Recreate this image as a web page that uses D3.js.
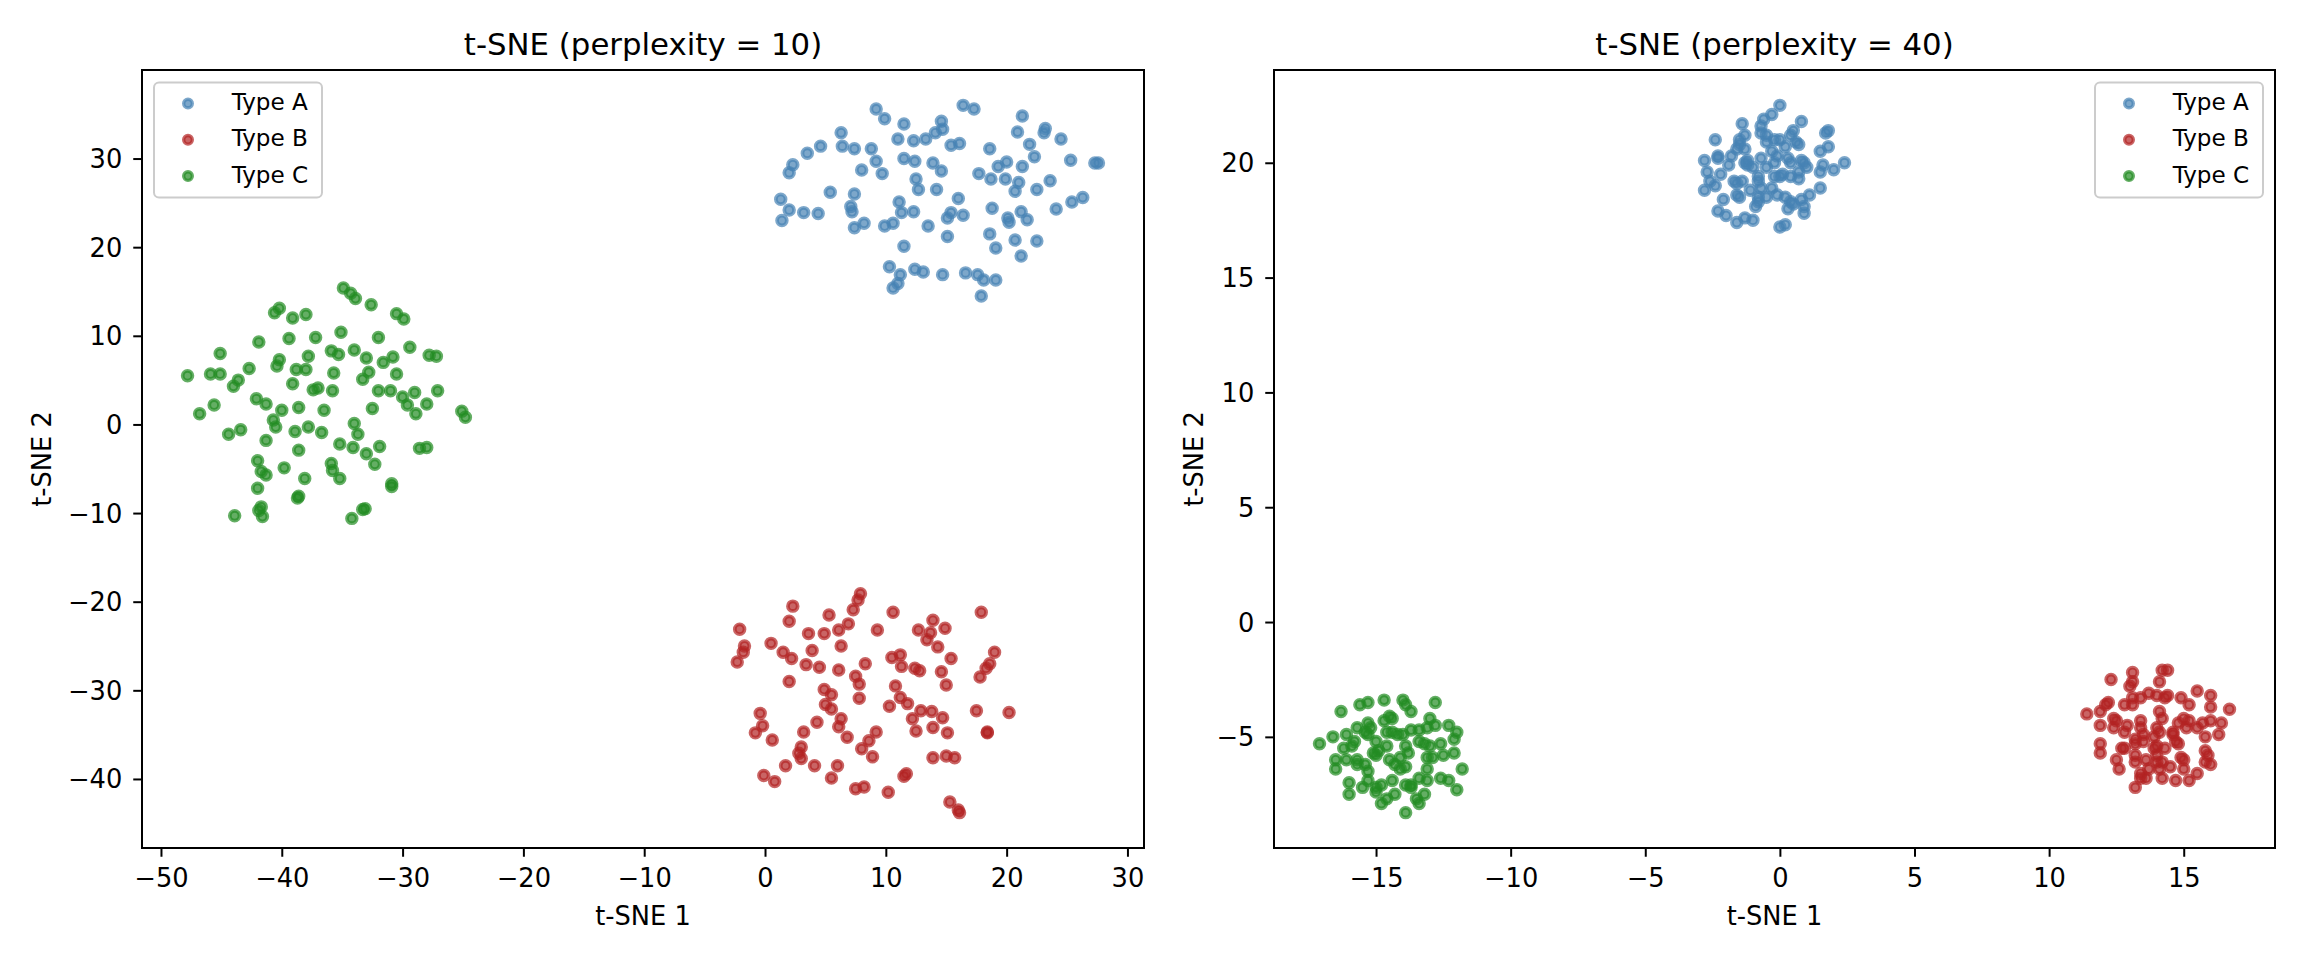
<!DOCTYPE html>
<html>
<head>
<meta charset="utf-8">
<script src="https://cdn.jsdelivr.net/npm/d3@7"></script>
<style>
  body { margin: 0; background: #fff; }
  text { font-family: "DejaVu Sans", sans-serif; fill: #000; }
</style>
</head>
<body>
<div id="chart"></div>
<script>
// ---- data ----
var seriesNames = ['Type A', 'Type B', 'Type C']
var seriesColors = ['#4682b4', '#b22222', '#228b22']

// perplexity = 10
var typeA10 = [[9.2,35.6],[9.9,34.5],[11.5,33.9],[16.4,36.0],[17.3,35.6],[21.3,34.8],[14.6,34.2],[14.1,32.9],[14.7,33.3],[6.3,32.9],
  [11.0,32.2],[12.3,32.0],[13.3,32.2],[4.6,31.4],[3.5,30.6],[6.4,31.4],[7.4,31.1],[8.8,31.1],[15.4,31.5],[16.1,31.7],
  [18.6,31.1],[20.9,33.0],[23.2,33.4],[23.1,32.9],[24.5,32.2],[21.9,31.6],[22.3,30.2],[25.3,29.8],[27.3,29.5],[27.6,29.5],
  [2.3,29.3],[2.0,28.4],[9.2,29.7],[8.0,28.7],[9.7,28.3],[11.5,30.0],[12.4,29.7],[13.9,29.5],[14.6,28.6],[12.5,27.7],
  [12.7,26.5],[14.2,26.5],[17.7,28.3],[18.7,27.7],[19.3,29.1],[20.0,29.6],[19.9,27.7],[21.3,29.1],[21.0,27.3],[20.7,26.3],
  [22.5,26.5],[23.6,27.5],[1.3,25.4],[5.4,26.2],[7.4,26.0],[2.0,24.2],[3.2,23.9],[4.4,23.8],[1.4,23.0],[7.1,24.6],
  [7.2,24.0],[7.4,22.2],[8.2,22.7],[9.9,22.4],[10.6,22.7],[11.1,25.1],[11.3,23.9],[12.3,24.0],[13.5,22.4],[16.0,25.5],
  [15.4,23.9],[15.1,23.3],[16.4,23.6],[15.1,21.2],[18.8,24.4],[20.1,23.3],[20.2,22.8],[21.2,24.0],[21.7,23.1],[24.1,24.3],
  [25.4,25.1],[26.3,25.6],[11.5,20.1],[18.6,21.5],[19.1,19.9],[20.7,20.8],[22.5,20.7],[21.2,19.0],[10.3,17.8],[11.2,16.9],
  [11.0,15.9],[10.6,15.4],[12.4,17.5],[13.1,17.2],[14.7,16.9],[16.6,17.1],[17.6,16.9],[18.1,16.3],[19.1,16.3],[17.9,14.5]]

var typeB10 = [[7.9,-19.1],[7.7,-19.8],[7.3,-20.9],[2.3,-20.5],[2.0,-22.2],[5.3,-21.5],[10.6,-21.2],[17.9,-21.2],[-2.1,-23.1],[-1.7,-25.0],
  [-1.8,-25.7],[-2.3,-26.8],[0.5,-24.7],[1.5,-25.7],[2.2,-26.4],[3.6,-23.6],[4.9,-23.6],[6.1,-23.2],[6.9,-22.5],[3.9,-25.5],
  [6.3,-25.0],[3.4,-27.1],[4.5,-27.4],[6.1,-27.7],[8.3,-27.0],[9.3,-23.2],[2.0,-29.0],[7.5,-28.4],[7.8,-29.3],[7.8,-30.9],
  [4.9,-29.9],[5.5,-30.5],[5.0,-31.6],[5.5,-32.1],[10.8,-29.5],[10.5,-26.3],[11.2,-26.0],[11.3,-27.3],[12.4,-27.5],[12.8,-27.8],
  [12.7,-23.2],[13.9,-22.1],[13.7,-23.5],[13.4,-24.3],[14.9,-23.0],[14.3,-25.1],[15.4,-26.4],[14.6,-27.9],[15.0,-29.4],[19.0,-25.7],
  [18.6,-27.0],[18.3,-27.5],[17.8,-28.5],[11.2,-30.8],[11.8,-31.5],[10.3,-31.8],[12.9,-32.3],[13.8,-32.4],[14.7,-33.1],[12.2,-33.2],
  [12.5,-34.6],[13.9,-34.2],[15.1,-34.8],[17.5,-32.3],[20.2,-32.5],[18.4,-34.7],[18.4,-34.8],[-0.4,-32.6],[-0.2,-34.0],[-0.8,-34.8],
  [0.6,-35.6],[4.3,-33.6],[3.2,-34.7],[6.3,-33.2],[6.1,-34.1],[6.8,-35.3],[9.2,-34.7],[8.6,-35.7],[8.0,-36.6],[8.9,-37.5],
  [3.0,-36.4],[2.8,-37.1],[3.0,-37.7],[1.7,-38.5],[4.1,-38.5],[6.0,-38.5],[5.5,-39.9],[-0.1,-39.6],[0.8,-40.3],[7.5,-41.1],
  [8.2,-40.9],[10.2,-41.5],[11.7,-39.4],[11.5,-39.7],[13.9,-37.6],[15.0,-37.4],[15.7,-37.6],[15.3,-42.6],[16.0,-43.5],[16.1,-43.8]]

var typeC10 = [[-34.9,15.4],[-34.3,14.8],[-33.9,14.2],[-32.6,13.5],[-30.5,12.5],[-29.9,11.9],[-40.2,13.1],[-40.6,12.6],[-39.1,12.0],[-38.0,12.4],
  [-41.9,9.3],[-39.4,9.7],[-37.2,9.8],[-35.1,10.4],[-32.0,9.8],[-29.4,8.7],[-27.8,7.8],[-27.2,7.7],[-45.1,8.0],[-45.9,5.7],
  [-45.1,5.7],[-47.8,5.5],[-42.7,6.3],[-43.6,5.0],[-44.0,4.3],[-40.2,7.3],[-40.4,6.6],[-37.8,7.7],[-38.8,6.2],[-38.0,6.2],
  [-35.9,8.3],[-35.3,7.9],[-34.0,8.4],[-33.0,7.5],[-31.6,7.0],[-30.8,7.6],[-32.8,5.9],[-33.3,5.1],[-35.7,5.8],[-39.1,4.6],
  [-37.4,3.9],[-37.0,4.1],[-35.8,3.8],[-30.5,5.7],[-32.0,3.8],[-31.0,3.8],[-30.0,3.1],[-29.6,2.2],[-29.0,3.6],[-28.0,2.3],
  [-28.9,1.2],[-27.1,3.8],[-25.1,1.5],[-24.8,0.8],[-45.6,2.2],[-46.8,1.2],[-42.1,2.9],[-41.3,2.3],[-40.0,1.6],[-38.6,1.9],
  [-36.5,1.6],[-32.5,1.8],[-40.7,0.5],[-40.5,-0.3],[-44.4,-1.1],[-43.4,-0.6],[-41.3,-1.8],[-38.9,-0.8],[-37.8,-0.3],[-36.7,-0.9],
  [-34.0,0.1],[-33.7,-1.1],[-35.2,-2.2],[-34.1,-2.6],[-33.0,-3.3],[-31.9,-2.5],[-32.3,-4.5],[-28.6,-2.7],[-28.0,-2.6],[-38.6,-2.9],
  [-42.0,-4.1],[-41.7,-5.3],[-41.3,-5.7],[-39.8,-4.9],[-38.1,-6.1],[-35.9,-4.4],[-35.8,-5.2],[-35.2,-6.1],[-30.9,-6.7],[-30.9,-7.0],
  [-42.0,-7.2],[-38.6,-8.1],[-38.7,-8.3],[-43.9,-10.3],[-41.7,-9.3],[-41.9,-9.7],[-41.6,-10.4],[-34.2,-10.6],[-33.3,-9.6],[-33.1,-9.5]]

// perplexity = 40
var typeA40 = [[0.0,22.5],[-0.3,22.1],[-0.6,21.9],[-1.4,21.7],[-2.4,21.0],[-0.7,21.6],[-0.7,21.3],[-0.5,21.2],[-1.3,21.2],[-1.5,21.0],
  [-1.5,20.8],[-1.6,20.6],[-1.3,20.6],[0.8,21.8],[0.5,21.4],[0.4,21.2],[0.6,20.9],[0.7,20.8],[1.8,21.4],[1.7,21.3],
  [1.8,20.7],[1.5,20.5],[-0.2,21.0],[0.0,21.0],[0.2,20.7],[-0.5,20.9],[-0.3,20.5],[-2.8,20.1],[-2.3,20.3],[-2.3,20.2],
  [-1.8,20.3],[-1.9,19.9],[-1.3,20.0],[-1.2,20.1],[-1.2,19.9],[-0.7,20.2],[-0.5,19.8],[-0.1,20.3],[0.3,20.2],[0.4,20.0],
  [0.8,20.1],[0.9,20.0],[1.0,19.8],[1.6,19.9],[2.0,19.7],[2.4,20.0],[1.5,19.6],[-2.7,19.6],[-2.6,19.2],[-2.2,19.5],
  [-2.4,19.0],[-2.8,18.8],[-1.7,19.2],[-1.6,19.1],[-1.4,19.2],[-0.8,19.4],[-0.8,19.2],[-0.7,18.9],[-0.2,19.4],[0.0,19.4],
  [0.1,19.5],[0.4,19.4],[0.7,19.3],[0.7,19.6],[-1.6,18.6],[-1.5,18.5],[-1.1,18.8],[-0.8,18.5],[-0.5,18.5],[-0.3,18.9],
  [-0.1,18.6],[0.2,18.5],[0.4,18.3],[0.5,18.2],[0.8,18.4],[1.1,18.6],[1.5,18.9],[-2.1,18.4],[-2.3,17.9],[-2.0,17.7],
  [-1.6,17.4],[-1.3,17.6],[-1.0,17.5],[-0.9,18.1],[-0.8,18.3],[0.3,18.0],[0.9,18.1],[0.9,17.8],[0.0,17.2],[0.2,17.3],
  [-1.0,19.8],[-0.2,20.0]]

var typeB40 = [[11.4,-4.0],[11.9,-3.9],[12.1,-3.6],[12.2,-3.5],[12.3,-2.5],[13.1,-2.2],[13.1,-2.6],[13.0,-2.8],[14.2,-2.1],[14.4,-2.1],
  [14.1,-2.6],[12.8,-3.6],[13.1,-3.3],[13.1,-3.6],[13.4,-3.3],[13.7,-3.1],[14.0,-3.2],[14.3,-3.3],[14.4,-3.2],[14.1,-3.9],
  [14.2,-4.2],[14.9,-3.3],[15.2,-3.6],[15.5,-3.0],[16.0,-3.2],[16.0,-3.7],[16.7,-3.8],[11.9,-4.5],[12.4,-4.2],[12.5,-4.3],
  [12.4,-4.6],[12.8,-4.8],[12.9,-4.5],[13.4,-4.3],[13.4,-4.6],[13.5,-4.9],[14.0,-4.6],[14.1,-4.8],[13.9,-5.0],[14.6,-4.8],
  [14.8,-4.4],[15.0,-4.2],[15.2,-4.3],[15.1,-4.6],[15.5,-4.6],[15.7,-4.4],[16.0,-4.3],[16.4,-4.4],[16.3,-4.9],[15.8,-5.0],
  [11.9,-5.3],[11.9,-5.7],[12.7,-5.5],[12.8,-5.5],[13.2,-5.1],[13.2,-5.3],[13.5,-5.2],[14.0,-5.4],[13.9,-5.5],[14.3,-5.5],
  [14.7,-5.2],[14.8,-5.3],[14.6,-4.9],[15.8,-5.6],[15.9,-5.8],[13.2,-5.8],[13.2,-6.1],[13.6,-6.0],[14.0,-5.8],[14.0,-6.1],
  [14.2,-6.1],[14.9,-5.9],[15.0,-6.0],[15.0,-6.4],[15.8,-6.1],[16.0,-6.2],[12.5,-6.0],[12.6,-6.4],[13.4,-6.6],[13.6,-6.8],
  [13.4,-6.8],[14.1,-6.4],[14.5,-6.3],[14.2,-6.8],[14.7,-6.9],[15.2,-6.9],[15.5,-6.6],[13.2,-7.2],[13.7,-6.4]]

var typeC40 = [[-17.1,-5.3],[-16.6,-5.0],[-16.3,-3.9],[-15.6,-3.6],[-15.3,-3.5],[-14.7,-3.4],[-14.0,-3.4],[-13.9,-3.6],[-13.7,-3.9],[-12.8,-3.5],
  [-16.1,-4.9],[-16.2,-5.5],[-16.5,-6.0],[-16.5,-6.4],[-16.1,-6.0],[-15.8,-5.2],[-15.9,-5.4],[-15.7,-4.6],[-15.4,-4.8],[-15.3,-4.4],
  [-15.2,-4.6],[-15.3,-4.9],[-14.7,-4.3],[-14.5,-4.1],[-14.4,-4.2],[-14.6,-4.8],[-14.4,-4.8],[-14.2,-4.9],[-14.0,-4.9],[-13.7,-4.7],
  [-13.4,-4.7],[-13.0,-4.2],[-12.8,-4.5],[-13.1,-4.6],[-12.3,-4.5],[-12.0,-4.8],[-12.1,-5.1],[-15.7,-6.0],[-15.7,-6.2],[-15.4,-6.2],
  [-15.3,-6.5],[-15.0,-5.2],[-15.1,-5.7],[-14.9,-5.6],[-15.0,-5.8],[-14.6,-5.4],[-14.5,-6.0],[-14.3,-6.2],[-14.1,-5.9],[-13.9,-5.4],
  [-13.8,-5.7],[-13.9,-6.3],[-13.4,-5.2],[-13.2,-5.3],[-13.0,-5.4],[-12.6,-5.3],[-13.1,-5.9],[-12.9,-5.9],[-12.5,-5.8],[-12.1,-5.7],
  [-13.1,-6.4],[-13.1,-6.9],[-13.4,-6.8],[-12.6,-6.8],[-12.3,-6.9],[-11.8,-6.4],[-12.0,-7.3],[-16.0,-7.0],[-16.0,-7.5],[-15.5,-7.2],
  [-15.3,-6.9],[-15.0,-7.2],[-14.8,-7.1],[-14.4,-6.9],[-13.9,-7.1],[-13.7,-7.2],[-14.3,-7.5],[-14.6,-7.7],[-14.8,-7.9],[-13.5,-7.7],
  [-13.4,-7.9],[-13.2,-7.5],[-13.9,-8.3],[-13.7,-7.1],[-15.0,-7.4],[-14.1,-6.4]]

var xTicks10 = [-50, -40, -30, -20, -10, 0, 10, 20, 30]
var yTicks10 = [-40, -30, -20, -10, 0, 10, 20, 30]
var xTicks40 = [-15, -10, -5, 0, 5, 10, 15]
var yTicks40 = [-5, 0, 5, 10, 15, 20]

// ---- layout ----
var width = 2304
var height = 960
var plotTop = 70
var plotBottom = 848
var tickFont = 25.7
var titleFont = 30.8
var legendFont = 23.1

var svg = d3.select('#chart')
  .append('svg')
  .attr('width', width)
  .attr('height', height)

svg.append('rect')
  .attr('width', width)
  .attr('height', height)
  .attr('fill', '#fff')

drawPanel({
  left: 142, right: 1144,
  title: 't-SNE (perplexity = 10)',
  series: [typeA10, typeB10, typeC10],
  xTicks: xTicks10, yTicks: yTicks10,
  ylabelX: 51,
  legendSide: 'left'
})

drawPanel({
  left: 1274, right: 2275,
  title: 't-SNE (perplexity = 40)',
  series: [typeA40, typeB40, typeC40],
  xTicks: xTicks40, yTicks: yTicks40,
  ylabelX: 1203,
  legendSide: 'right'
})

function padded(values) {
  var ext = d3.extent(values)
  var pad = (ext[1] - ext[0]) * 0.05
  return [ext[0] - pad, ext[1] + pad]
}

function drawPanel(p) {
  var all = d3.merge(p.series)
  var xScale = d3.scaleLinear().domain(padded(all.map(d => d[0]))).range([p.left, p.right])
  var yScale = d3.scaleLinear().domain(padded(all.map(d => d[1]))).range([plotBottom, plotTop])

  var g = svg.append('g')

  // points
  p.series.forEach(function (pts, i) {
    g.append('g')
      .selectAll('circle')
      .data(pts)
      .enter()
      .append('circle')
      .attr('cx', d => xScale(d[0]))
      .attr('cy', d => yScale(d[1]))
      .attr('r', 4.85)
      .attr('fill', seriesColors[i])
      .attr('fill-opacity', 0.7)
      .attr('stroke', seriesColors[i])
      .attr('stroke-opacity', 0.7)
      .attr('stroke-width', 3.75)
  })

  // axes
  var xAxis = g.append('g')
    .attr('transform', `translate(0, ${plotBottom})`)
    .call(d3.axisBottom(xScale).tickValues(p.xTicks).tickSizeOuter(0).tickSize(8.75).tickPadding(8.75))
  xAxis.select('.domain').remove()
  xAxis.selectAll('line').attr('stroke', '#000').attr('stroke-width', 2)
  xAxis.selectAll('text').attr('font-size', tickFont).attr('dy', '0.82em')
    .attr('font-family', '"DejaVu Sans", sans-serif').attr('fill', '#000')

  var yAxis = g.append('g')
    .attr('transform', `translate(${p.left}, 0)`)
    .call(d3.axisLeft(yScale).tickValues(p.yTicks).tickSizeOuter(0).tickSize(8.75).tickPadding(11))
  yAxis.select('.domain').remove()
  yAxis.selectAll('line').attr('stroke', '#000').attr('stroke-width', 2)
  yAxis.selectAll('text').attr('font-size', tickFont).attr('dy', '0.35em')
    .attr('font-family', '"DejaVu Sans", sans-serif').attr('fill', '#000')

  // frame
  g.append('rect')
    .attr('x', p.left)
    .attr('y', plotTop)
    .attr('width', p.right - p.left)
    .attr('height', plotBottom - plotTop)
    .attr('fill', 'none')
    .attr('stroke', '#000')
    .attr('stroke-width', 2)

  // title and labels
  var cx = (p.left + p.right) / 2
  g.append('text')
    .attr('x', cx)
    .attr('y', plotTop - 15)
    .attr('text-anchor', 'middle')
    .attr('font-size', titleFont)
    .text(p.title)

  g.append('text')
    .attr('x', cx)
    .attr('y', 925)
    .attr('text-anchor', 'middle')
    .attr('font-size', tickFont)
    .text('t-SNE 1')

  g.append('text')
    .attr('transform', `translate(${p.ylabelX}, ${(plotTop + plotBottom) / 2}) rotate(-90)`)
    .attr('text-anchor', 'middle')
    .attr('font-size', tickFont)
    .text('t-SNE 2')

  // legend
  var boxW = 168
  var boxH = 115
  var bx = p.legendSide === 'left' ? p.left + 12 : p.right - 12 - boxW
  var by = plotTop + 12.5
  var legend = g.append('g').attr('transform', `translate(${bx}, ${by})`)
  legend.append('rect')
    .attr('width', boxW)
    .attr('height', boxH)
    .attr('rx', 5)
    .attr('fill', '#fff')
    .attr('fill-opacity', 0.8)
    .attr('stroke', '#cccccc')
    .attr('stroke-width', 2)

  seriesNames.forEach(function (name, i) {
    var ry = 21 + i * 36.3
    legend.append('circle')
      .attr('cx', 34)
      .attr('cy', ry)
      .attr('r', 4.3)
      .attr('fill', seriesColors[i])
      .attr('fill-opacity', 0.7)
      .attr('stroke', seriesColors[i])
      .attr('stroke-opacity', 0.7)
      .attr('stroke-width', 3.4)
    legend.append('text')
      .attr('x', 77.7)
      .attr('y', ry + 6.5)
      .attr('font-size', legendFont)
      .text(name)
  })
}
</script>
</body>
</html>
